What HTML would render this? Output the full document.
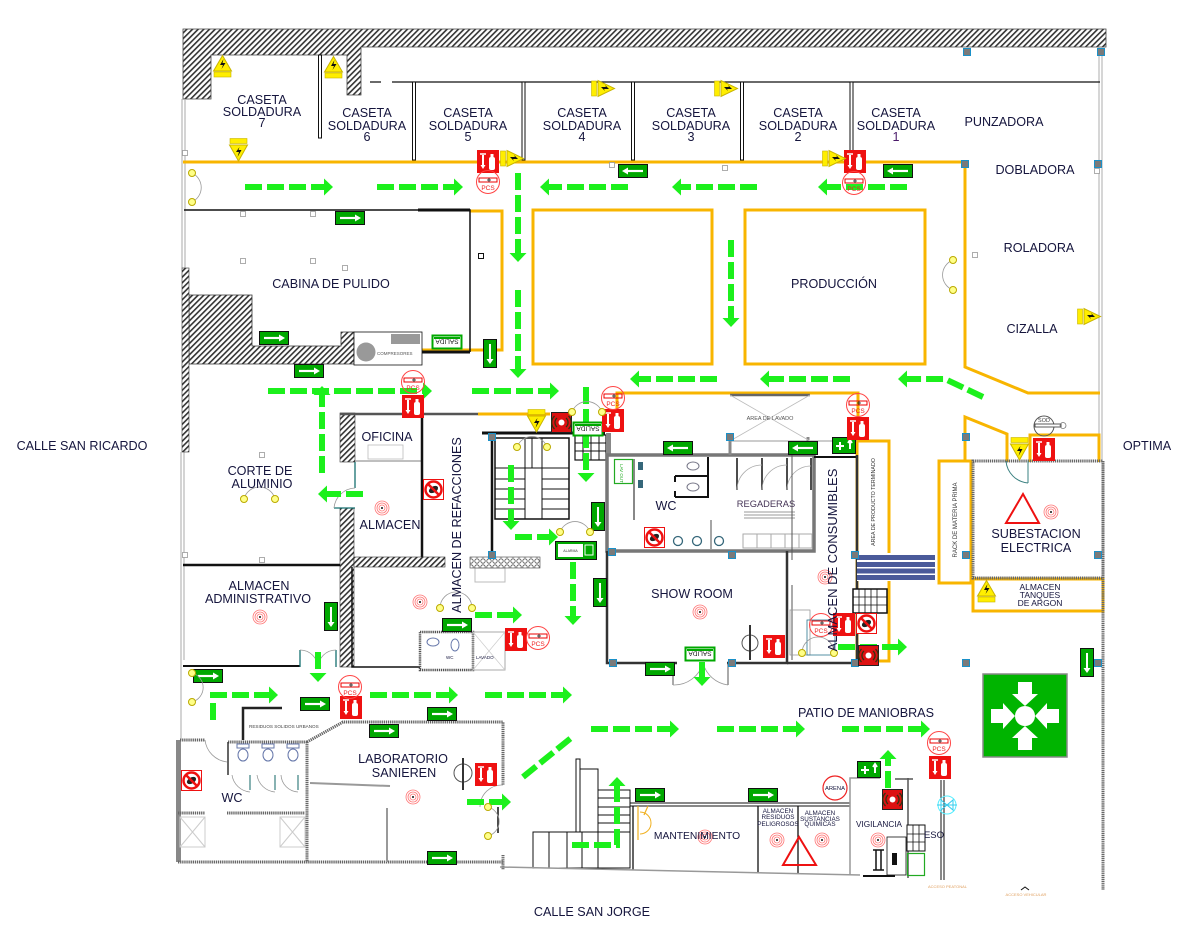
<!DOCTYPE html>
<html><head><meta charset="utf-8"><style>
html,body{margin:0;padding:0;background:#fff;}
svg{display:block;}
text{font-family:"Liberation Sans",Arial,sans-serif;fill:#15153d;}
.d{stroke:#1cf01c;stroke-width:6;stroke-dasharray:17 5;fill:none;}
.hd{fill:#1cf01c;}
.o{stroke:#f8b500;stroke-width:3;fill:none;}
.k{stroke:#111;fill:none;}
.g{stroke:#666;stroke-width:3;stroke-dasharray:1.3 .8;fill:none;}
.t{font-size:12.6px;}
</style></head><body>
<svg width="1202" height="932" viewBox="0 0 1202 932" xmlns="http://www.w3.org/2000/svg">
<defs>
<pattern id="h" width="4" height="4" patternUnits="userSpaceOnUse" patternTransform="rotate(45)"><rect width="4" height="4" fill="#fff"/><rect width="1.6" height="4" fill="#333"/></pattern>
<pattern id="dt" width="6" height="6" patternUnits="userSpaceOnUse"><rect width="6" height="6" fill="#fff"/><circle cx="3" cy="3" r="2.2" fill="none" stroke="#555" stroke-width=".8"/></pattern>
<g id="exR"><rect x=".5" y=".5" width="29" height="13" fill="#00a800" stroke="#111"/><path d="M5 7H21" stroke="#fff" stroke-width="2.2"/><path d="M20 3.5L26 7L20 10.5Z" fill="#fff"/></g>
<g id="exL"><rect x=".5" y=".5" width="29" height="13" fill="#00a800" stroke="#111"/><path d="M9 7H25" stroke="#fff" stroke-width="2.2"/><path d="M10 3.5L4 7L10 10.5Z" fill="#fff"/></g>
<g id="exD"><rect x=".5" y=".5" width="13" height="28" fill="#00a800" stroke="#111"/><path d="M7 5V21" stroke="#fff" stroke-width="2"/><path d="M3.5 20L7 25L10.5 20Z" fill="#fff"/></g>
<g id="sal"><rect x=".5" y=".5" width="29" height="13" fill="#fff" stroke="#00a800" stroke-width="2"/><rect x="2" y="2" width="26" height="2" fill="#00a800"/><text x="15" y="11.5" font-size="6.5" text-anchor="middle" style="fill:#111" transform="rotate(180 15 8)">SALIDA</text></g>
<g id="fe"><rect width="22" height="23" fill="#ee1111"/><rect x="12" y="7" width="6" height="13" rx="2" fill="#fff"/><rect x="13.5" y="4" width="3" height="3" fill="#fff"/><path d="M6 5V16" stroke="#fff" stroke-width="2"/><path d="M3.5 15L6 19L8.5 15Z" fill="#fff"/><path d="M3 4H9" stroke="#fff" stroke-width="1.5"/></g>
<g id="al"><rect x=".5" y=".5" width="20" height="20" fill="#dd1111" stroke="#222"/><circle cx="10.5" cy="10.5" r="3" fill="#fff"/><path d="M6 6A6 6 0 0 0 6 15M15 6A6 6 0 0 1 15 15M3.5 4A9 9 0 0 0 3.5 17M17.5 4A9 9 0 0 1 17.5 17" stroke="#331" stroke-width="1.3" fill="none"/></g>
<g id="ns"><rect x=".5" y=".5" width="20" height="20" fill="#fff" stroke="#e11"/><circle cx="10.5" cy="10.5" r="8" fill="#fff" stroke="#e11" stroke-width="2.5"/><ellipse cx="10.5" cy="10.5" rx="5" ry="3" fill="#222" transform="rotate(-30 10.5 10.5)"/><path d="M5 5L16 16" stroke="#e11" stroke-width="2.5"/></g>
<g id="yt"><path d="M9.5 .5L18.5 16H.5Z" fill="#ffee00" stroke="#c8b400"/><path d="M10.5 4L7 10H10L8.5 14L12.5 8H9.5Z" fill="#111"/><rect x="1" y="17" width="17" height="5" fill="#ffee00" stroke="#c8b400" stroke-width=".6"/></g>
<g id="yi"><rect x="1" y=".5" width="17" height="5" fill="#ffee00" stroke="#c8b400" stroke-width=".6"/><path d="M.5 7H18.5L9.5 23Z" fill="#ffee00" stroke="#c8b400"/><path d="M10.5 9L7 14H10L8.5 19L12.5 12H9.5Z" fill="#111"/></g>
<g id="ys"><rect x=".5" y="1" width="5" height="15" fill="#ffee00" stroke="#c8b400" stroke-width=".6"/><path d="M7 .5V16.5L23.5 8.5Z" fill="#ffee00" stroke="#c8b400"/><path d="M10 7H15L14 5L18 9H13L14 11Z" fill="#111"/></g>
<g id="pcs"><circle r="11.5" fill="none" stroke="#ff4444" stroke-width="1"/><rect x="-9" y="-4" width="18" height="4" fill="none" stroke="#e00" stroke-width="1"/><path d="M-1 -2H3M1 -4V0" stroke="#111" stroke-width=".8"/><text x="0" y="8" font-size="6.5" text-anchor="middle" style="fill:#e22">PCS</text></g>
<g id="sod"><circle r="10" fill="none" stroke="#555" stroke-width="1"/><rect x="-9" y="-2" width="26" height="3" fill="#fff" stroke="#333" stroke-width=".8"/><circle cx="19" cy="-.5" r="3" fill="none" stroke="#777" stroke-width=".8"/><text x="0" y="-4" font-size="5.5" text-anchor="middle" style="fill:#444">SOD</text></g>
<g id="sd"><circle r="7" fill="none" stroke="#f77" stroke-width=".8"/><circle r="5" fill="none" stroke="#f77" stroke-width=".8"/><circle r="3" fill="none" stroke="#f77" stroke-width=".8"/><circle r="1" fill="#111"/></g>
<g id="col"><rect x="-3.5" y="-3.5" width="7" height="7" fill="#7a7a7a" stroke="#1a90c8" stroke-width="1"/></g>
<g id="lt"><circle r="3.5" fill="#ffff88" stroke="#bbaa00" stroke-width="1"/></g>
<g id="sq"><rect x="-2.5" y="-2.5" width="5" height="5" fill="#fff" stroke="#999" stroke-width=".8"/></g>
</defs>

<rect width="1202" height="932" fill="#fff"/>

<!-- top hatched walls -->
<path d="M183,29H1106V47H361V95H347V55H211V99H183Z" fill="url(#h)" stroke="#444" stroke-width=".8"/>
<path d="M1099,47V461M1102,47V461" stroke="#999" stroke-width=".8"/>
<path d="M182,99V268M185,99V268M181,452V740M184,452V660" stroke="#aaa" stroke-width="1"/>

<!-- caseta partitions -->
<path d="M370,82H381M392,82H1100" class="k" stroke-width="1.3"/>
<g fill="#fff" stroke="#111" stroke-width="1">
<rect x="318.5" y="55" width="3" height="83"/>
<rect x="412.5" y="82" width="3" height="78"/>
<rect x="522" y="82" width="3" height="78"/>
<rect x="631.5" y="82" width="3" height="78"/>
<rect x="740.5" y="82" width="3" height="78"/>
<rect x="850" y="82" width="3" height="78"/>
</g>

<!-- orange lines -->
<path class="o" d="M183,162H965V367L1028,393H1100"/>
<path class="o" d="M965,460V417L1007,434V462"/>
<rect class="o" x="939" y="461" width="32" height="122"/>
<path class="o" d="M1030,462V435H1099V462"/>
<rect class="o" x="973" y="579" width="130" height="32"/>
<rect class="o" x="533" y="210" width="179" height="154"/>
<rect class="o" x="745" y="210" width="180" height="154"/>
<path class="o" d="M470,211H502V350H422"/>
<path class="o" d="M617,413V393H858V441"/>
<rect class="o" x="857" y="441" width="32" height="220"/>
<path class="o" d="M478,414H550"/>

<!-- cabina de pulido -->
<path class="k" stroke-width="1.5" d="M184,210H470V352"/>
<path d="M418,210H470M422,352H470" stroke="#111" stroke-width="3"/>
<path d="M189,295H252V346H341V332H354V364H189Z" fill="url(#h)" stroke="#333" stroke-width=".8"/>
<rect x="182" y="268" width="7" height="184" fill="url(#h)" stroke="#333" stroke-width=".6"/>
<rect x="354" y="332" width="68" height="33" fill="#fff" stroke="#111" stroke-width=".8"/>
<rect x="391" y="334" width="29" height="10" fill="#999"/>
<circle cx="366" cy="352" r="9.5" fill="#999"/>
<text x="377" y="355" font-size="4.5" style="fill:#555">COMPRESORES</text>
<use href="#sq" x="243" y="214"/><use href="#sq" x="313" y="214"/><use href="#sq" x="243" y="261"/><use href="#sq" x="313" y="261"/><use href="#sq" x="345" y="268"/>
<rect x="478.5" y="253.5" width="5" height="5" fill="#fff" stroke="#111"/>
<use href="#sq" x="185" y="153"/><use href="#sq" x="612" y="165"/><use href="#sq" x="725" y="168"/><use href="#sq" x="1097" y="171"/><use href="#sq" x="975" y="255"/><use href="#sq" x="262" y="455"/><use href="#sq" x="262" y="560"/><use href="#sq" x="185" y="555"/>

<!-- oficina / almacen -->
<rect x="340" y="413" width="15" height="49" fill="url(#h)" stroke="#333" stroke-width=".6"/>
<path d="M340,414H478" stroke="#555" stroke-width="2.5"/>
<path d="M355,461H422" stroke="#999" stroke-width="1.2"/>
<rect x="368" y="445" width="35" height="14" fill="none" stroke="#bbb" stroke-width=".8"/>
<path d="M422,414V560" stroke="#111" stroke-width="2.5"/>
<rect x="340" y="508" width="14" height="159" fill="url(#h)" stroke="#333" stroke-width=".6"/>
<rect x="354" y="557" width="91" height="10" fill="url(#h)" stroke="#333" stroke-width=".6"/>
<path d="M183,565H340" stroke="#111" stroke-width="2.5"/>
<path d="M183,666H300" stroke="#111" stroke-width="2"/>
<path d="M352,567V667H420" stroke="#111" stroke-width="1.5" fill="none"/>
<path d="M355,462V488M334,508L355,508" stroke="#167070" stroke-width="1.3"/>
<path d="M334,508A22,22 0 0,1 355,488" stroke="#999" fill="none" stroke-width=".8"/>
<path d="M300,650V667M336,650V667" stroke="#167070" stroke-width="1.3"/>
<path d="M300,650A18,18 0 0,1 318,668M336,650A18,18 0 0,0 318,668" stroke="#999" fill="none" stroke-width=".8"/>
<rect x="420" y="632" width="53" height="38" fill="none" stroke="#555" stroke-width="2.5" stroke-dasharray="1.3 .8"/>
<ellipse cx="455" cy="645" rx="4" ry="6" fill="none" stroke="#6677aa"/>
<ellipse cx="433" cy="642" rx="6" ry="4" fill="none" stroke="#6677aa"/>
<text x="446" y="659" font-size="4.5">WC</text>
<rect x="473" y="632" width="32" height="38" fill="none" stroke="#aaa"/>
<path d="M473,632L505,670M505,632L473,670" stroke="#ccc" stroke-width=".7"/>
<text x="476" y="659" font-size="4.5">LAVADO</text>
<rect x="475" y="568" width="30" height="14" fill="none" stroke="#bbb"/>

<!-- stairs -->
<path d="M482,433H605" stroke="#111" stroke-width="3"/>
<path d="M492,433V556" stroke="#111" stroke-width="2.5"/>
<rect x="495" y="438" width="74" height="81" fill="none" stroke="#111" stroke-width="1.5"/>
<path d="M525,438V519M532,438V468M542,438V519M495,468H525M495,479H525M495,489H525M495,499H525M495,509H525M542,468H569M542,479H569M542,489H569M542,499H569M542,509H569M525,468H542" stroke="#111" stroke-width="1"/>
<rect x="470" y="557" width="70" height="11" fill="url(#dt)" stroke="#444" stroke-width=".6"/>
<rect x="575" y="435" width="31" height="25" fill="#fff" stroke="#111" stroke-width="1.2"/>
<path d="M583,435V460M591,435V460M599,435V460M575,443H606M575,451H606" stroke="#111" stroke-width="1"/>
<rect x="606" y="433" width="5" height="22" fill="#888"/>

<!-- WC / regaderas -->
<rect x="607" y="455" width="207" height="96" fill="none" stroke="#777" stroke-width="3.5"/>
<path d="M814,457H858" stroke="#111" stroke-width="2"/>
<path d="M634,459V520" stroke="#888" stroke-width="2"/>
<path d="M675,476H708M675,497H708M708,457V498M675,476V482M675,491V497" stroke="#111" stroke-width="2" fill="none"/>
<ellipse cx="693" cy="466" rx="6" ry="4" fill="none" stroke="#778"/>
<ellipse cx="693" cy="487" rx="6" ry="4" fill="none" stroke="#778"/>
<rect x="638" y="462" width="5" height="8" fill="#35677a"/><rect x="638" y="480" width="5" height="8" fill="#35677a"/>
<path d="M737,458V490M762,458V490M787,458V490M811,458V490" stroke="#111" stroke-width="1.5"/>
<path d="M737,490A25,25 0 0,1 762,465M762,490A25,25 0 0,1 787,465M787,490A24,24 0 0,1 811,466" stroke="#aaa" fill="none" stroke-width=".8"/>
<path d="M744,512H795M744,515H795M744,518H795" stroke="#999" stroke-width="1"/>
<circle cx="678" cy="541" r="4.5" fill="none" stroke="#35677a" stroke-width="1.3"/>
<circle cx="697" cy="541" r="4.5" fill="none" stroke="#35677a" stroke-width="1.3"/>
<circle cx="719" cy="541" r="4.5" fill="none" stroke="#35677a" stroke-width="1.3"/>
<path d="M711,520V549" stroke="#888" stroke-width="1.5"/>
<rect x="743" y="534" width="69" height="14" fill="none" stroke="#aaa"/>
<path d="M757,534V548M771,534V548M785,534V548M799,534V548" stroke="#aaa"/>
<rect x="614.5" y="459.5" width="18" height="24" fill="none" stroke="#2a2" stroke-width="1.2"/>
<text transform="translate(620,464) rotate(90)" font-size="4.5" style="fill:#2a2">LAV OUT</text>
<path d="M730,441H857" stroke="#999" stroke-width="1"/>
<path d="M730,437V455M808,437V455" stroke="#888" stroke-width="3"/>
<path d="M730,395H810" stroke="#666" stroke-width="2.5"/>
<path d="M730,395L810,441M810,395L730,441" stroke="#bbb" stroke-width=".8"/>
<text x="770" y="420" font-size="5.5" text-anchor="middle" style="fill:#555">AREA DE LAVADO</text>

<!-- show room & consumibles -->
<path d="M607,551V663H677M727,663H787V551" stroke="#333" stroke-width="2.5" fill="none"/>
<path d="M673,663V685M728,663V685" stroke="#555" stroke-width="1"/>
<path d="M673,685A30,30 0 0,0 703,663M728,685A30,30 0 0,1 703,663" stroke="#999" fill="none" stroke-width=".8"/>
<path d="M787,663H857M857,455V663" stroke="#333" stroke-width="2.5" fill="none"/>
<path d="M792,455V560M792,585V660" stroke="#555" stroke-width="1"/>
<rect x="790" y="610" width="20" height="45" fill="none" stroke="#999" stroke-width=".8"/>
<rect x="807" y="620" width="28" height="35" fill="none" stroke="#2a7590" stroke-width=".8"/>
<rect x="857" y="553" width="78" height="28" fill="#fff"/>
<path d="M857,557.5H935M857,564.5H935M857,571H935M857,577.5H935" stroke="#4a5a9a" stroke-width="5"/>
<rect x="853" y="589" width="34" height="24" fill="#fff" stroke="#111" stroke-width="1.5"/>
<path d="M859,589V613M865,589V613M871,589V613M877,589V613M853,597H887M853,605H887" stroke="#111" stroke-width=".8"/>
<text transform="translate(875,502) rotate(-90)" font-size="5.3" text-anchor="middle" style="fill:#333">AREA DE PRODUCTO TERMINADO</text>
<text transform="translate(957,520) rotate(-90)" font-size="6" text-anchor="middle" style="fill:#333">RACK DE MATERIA PRIMA</text>

<!-- subestacion -->
<rect x="973" y="461" width="130" height="117" fill="none" class="g"/>
<path class="g" d="M1103,461V890"/>
<path d="M1006,461A24,24 0 0,0 1028,483M1028,461V483" stroke="#3a8080" fill="none" stroke-width="1"/>
<path d="M1023,494L1006,523H1039Z" fill="none" stroke="#e11" stroke-width="2"/>

<!-- bottom left -->
<rect x="176" y="740" width="5" height="122" fill="#888"/>
<path class="g" d="M178,862H503"/>
<path class="g" d="M180,740H205M228,742H307"/>
<path d="M243,740V708H282" stroke="#222" stroke-width="2.5" fill="none"/>
<path class="g" d="M307,742L343,722H503V785M503,855V870"/>
<path class="g" d="M307,742V862"/>
<path d="M228,742V775" stroke="#333" stroke-width="1.5"/>
<path class="g" d="M178,813H205M227,813H305"/>
<g fill="none" stroke="#6677aa" stroke-width="1">
<rect x="237" y="744" width="12" height="4"/><ellipse cx="243" cy="755" rx="5" ry="6"/>
<rect x="262" y="744" width="12" height="4"/><ellipse cx="268" cy="755" rx="5" ry="6"/>
<rect x="287" y="744" width="12" height="4"/><ellipse cx="293" cy="755" rx="5" ry="6"/>
</g>
<path d="M250,775V790M275,775V790M298,775V790" stroke="#3a8080" stroke-width="1.2"/>
<path d="M232,775A20,20 0 0,0 250,792M257,775A20,20 0 0,0 275,792M281,775A18,18 0 0,0 298,792" stroke="#999" fill="none" stroke-width=".8"/>
<path d="M205,740A25,25 0 0,0 227,762" stroke="#999" fill="none" stroke-width=".8"/>
<rect x="180" y="817" width="25" height="30" fill="none" stroke="#ccc"/><path d="M180,817L205,847M205,817L180,847" stroke="#ccc"/>
<rect x="280" y="817" width="25" height="30" fill="none" stroke="#ccc"/><path d="M280,817L305,847M305,817L280,847" stroke="#ccc"/>
<path d="M310,783L390,786" stroke="#999" stroke-width="2"/>
<path d="M387,808V862" stroke="#999" stroke-width="2"/>
<text x="249" y="728" font-size="4.6" style="fill:#444">RESIDUOS SOLIDOS URBANOS</text>
<path d="M498,807V833" stroke="#111" stroke-width="1.5"/>
<path d="M480,807A22,22 0 0,1 503,785" stroke="#999" fill="none" stroke-width=".8"/>

<!-- bottom center -->
<rect x="533" y="832" width="65" height="36" fill="none" stroke="#111"/>
<path d="M549,832V868M567,832V868M582,832V868" stroke="#111"/>
<rect x="598" y="790" width="32" height="78" fill="none" stroke="#111"/>
<path d="M598,798H630M598,807H630M598,815H630M598,823H630M598,832H630" stroke="#111"/>
<rect x="576" y="759" width="4" height="73" fill="none" stroke="#111"/>
<rect x="580" y="769" width="18" height="63" fill="none" stroke="#111"/>
<path d="M630,803H850M630,806H850" stroke="#111" stroke-width="1"/>
<path d="M633,806V870M758,806V873M798,806V873" stroke="#111" stroke-width="1.3"/>
<path d="M500,867L860,875" stroke="#999" stroke-width="1.5"/>
<path d="M638,806V840M644,815L648,806" stroke="#f0b020" stroke-width="1.2" fill="none"/>
<path d="M640,812A11,11 0 0,1 640,834" stroke="#f0b020" fill="none" stroke-width="1"/>
<path d="M850,875V778H880" stroke="#999" stroke-width="1.5" fill="none"/>
<path d="M908,778V878M895,779H913" stroke="#555" stroke-width="1.5"/>
<path d="M941,780V880M944,780V880" stroke="#111" stroke-width="1"/>
<path d="M863,876H895" stroke="#111" stroke-width="2"/>
<rect x="887" y="837" width="19" height="38" fill="#fff" stroke="#111" stroke-width=".8"/>
<rect x="892" y="853" width="5" height="12" fill="#111"/>
<rect x="907" y="825" width="18" height="26" fill="#fff" stroke="#111" stroke-width="1"/>
<path d="M913,825V851M919,825V851M907,834H925M907,842H925" stroke="#111" stroke-width=".8"/>
<rect x="907.5" y="853.5" width="17" height="22" fill="none" stroke="#2a2" stroke-width="1.2"/>
<path d="M873,850H884M873,870H884M876,850V870M881,850V870" stroke="#111" stroke-width="1.5"/>
<circle cx="835" cy="788" r="12" fill="none" stroke="#e22" stroke-width="1.2"/>
<text x="835" y="790" font-size="5.8" text-anchor="middle">ARENA</text>
<circle cx="947" cy="805" r="9" fill="none" stroke="#5ef" stroke-width="1"/>
<path d="M937,805H957M941,800L953,810V800L941,810Z" stroke="#3ce" fill="none" stroke-width="1"/>
<path d="M783,865L799,837L816,865Z" fill="none" stroke="#e11" stroke-width="2"/>
<text x="928" y="888" font-size="4" style="fill:#e0a060">ACCESO PEATONAL</text>
<text x="1026" y="896" font-size="4" text-anchor="middle" style="fill:#e0a060">ACCESO VEHICULAR</text>
<path d="M1021,890L1025,887L1029,890" stroke="#111" fill="none"/>

<!-- columns -->
<g>
<use href="#col" x="967" y="52"/><use href="#col" x="1101" y="52"/>
<use href="#col" x="965" y="164"/><use href="#col" x="1098" y="164"/>
<use href="#col" x="966" y="437"/><use href="#col" x="966" y="555"/><use href="#col" x="1098" y="555"/>
<use href="#col" x="966" y="663"/><use href="#col" x="1098" y="663"/>
<use href="#col" x="855" y="555"/><use href="#col" x="855" y="663"/>
<use href="#col" x="492" y="437"/><use href="#col" x="492" y="555"/>
<use href="#col" x="612" y="552"/><use href="#col" x="732" y="555"/><use href="#col" x="730" y="437"/>
<use href="#col" x="613" y="663"/><use href="#col" x="732" y="663"/>
</g>

<!-- assembly point -->
<rect x="983" y="674" width="84" height="83" fill="#00b400" stroke="#888" stroke-width="1.5"/>
<g fill="#fff">
<circle cx="1025" cy="716" r="10"/>
<rect x="1018" y="682" width="14" height="13"/><path d="M1012,694H1038L1025,706Z"/>
<rect x="1018" y="737" width="14" height="13"/><path d="M1012,738H1038L1025,726Z"/>
<rect x="991" y="709" width="13" height="14"/><path d="M1003,703V729L1015,716Z"/>
<rect x="1046" y="709" width="13" height="14"/><path d="M1047,703V729L1035,716Z"/>
</g>

<!-- dashed evacuation arrows -->
<g>
<line class="d" x1="245" y1="187" x2="324" y2="187"/><polygon class="hd" points="324,178.5 333,187 324,195.5"/>
<line class="d" x1="377" y1="187" x2="454" y2="187"/><polygon class="hd" points="454,178.5 463,187 454,195.5"/>
<line class="d" x1="628" y1="187" x2="549" y2="187"/><polygon class="hd" points="549,178.5 540,187 549,195.5"/>
<line class="d" x1="757" y1="187" x2="681" y2="187"/><polygon class="hd" points="681,178.5 672,187 681,195.5"/>
<line class="d" x1="907" y1="187" x2="827" y2="187"/><polygon class="hd" points="827,178.5 818,187 827,195.5"/>
<line class="d" x1="518" y1="173" x2="518" y2="253"/><polygon class="hd" points="509.5,253 518,262 526.5,253"/>
<line class="d" x1="518" y1="290" x2="518" y2="369"/><polygon class="hd" points="509.5,369 518,378 526.5,369"/>
<line class="d" x1="731" y1="240" x2="731" y2="318"/><polygon class="hd" points="722.5,318 731,327 739.5,318"/>
<line class="d" x1="268" y1="391" x2="423" y2="391"/><polygon class="hd" points="423,382.5 432,391 423,399.5"/>
<line class="d" x1="472" y1="391" x2="550" y2="391"/><polygon class="hd" points="550,382.5 559,391 550,399.5"/>
<line class="d" x1="717" y1="379" x2="639" y2="379"/><polygon class="hd" points="639,370.5 630,379 639,387.5"/>
<line class="d" x1="850" y1="379" x2="769" y2="379"/><polygon class="hd" points="769,370.5 760,379 769,387.5"/>
<path class="d" d="M983,397L945,379H907"/><polygon class="hd" points="907,370.5 898,379 907,387.5"/>
<line class="d" x1="322" y1="473" x2="322" y2="395"/><polygon class="hd" points="313.5,395 322,386 330.5,395"/>
<line class="d" x1="363" y1="494" x2="327" y2="494"/><polygon class="hd" points="327,485.5 318,494 327,502.5"/>
<line class="d" x1="511" y1="465" x2="511" y2="521"/><polygon class="hd" points="502.5,521 511,530 519.5,521"/>
<line class="d" x1="515" y1="537" x2="549" y2="537"/><polygon class="hd" points="549,528.5 558,537 549,545.5"/>
<line class="d" x1="586" y1="387" x2="586" y2="473"/><polygon class="hd" points="577.5,473 586,482 594.5,473"/>
<line class="d" x1="573" y1="562" x2="573" y2="616"/><polygon class="hd" points="564.5,616 573,625 581.5,616"/>
<line class="d" x1="475" y1="615" x2="513" y2="615"/><polygon class="hd" points="513,606.5 522,615 513,623.5"/>
<path class="d" d="M213,720V695H269"/><polygon class="hd" points="269,686.5 278,695 269,703.5"/>
<line class="d" x1="370" y1="695" x2="449" y2="695"/><polygon class="hd" points="449,686.5 458,695 449,703.5"/>
<line class="d" x1="485" y1="695" x2="563" y2="695"/><polygon class="hd" points="563,686.5 572,695 563,703.5"/>
<line class="d" x1="318" y1="652" x2="318" y2="673"/><polygon class="hd" points="309.5,673 318,682 326.5,673"/>
<line class="d" x1="467" y1="802" x2="502" y2="802"/><polygon class="hd" points="502,793.5 511,802 502,810.5"/>
<line class="d" x1="523" y1="777" x2="571" y2="738"/>
<line class="d" x1="591" y1="729" x2="670" y2="729"/><polygon class="hd" points="670,720.5 679,729 670,737.5"/>
<line class="d" x1="717" y1="729" x2="796" y2="729"/><polygon class="hd" points="796,720.5 805,729 796,737.5"/>
<line class="d" x1="842" y1="729" x2="921" y2="729"/><polygon class="hd" points="921,720.5 930,729 921,737.5"/>
<path class="d" d="M572,845H617V786"/><polygon class="hd" points="608.5,786 617,777 625.5,786"/>
<line class="d" x1="888" y1="788" x2="888" y2="759"/><polygon class="hd" points="879.5,759 888,750 896.5,759"/>
<line class="d" x1="702" y1="662" x2="702" y2="677"/><polygon class="hd" points="693.5,677 702,686 710.5,677"/>
<line class="d" x1="838" y1="647" x2="898" y2="647"/><polygon class="hd" points="898,638.5 907,647 898,655.5"/>
</g>

<!-- exit signs -->
<use href="#exR" x="335" y="211"/><use href="#exR" x="259" y="331"/><use href="#exR" x="294" y="364"/>
<use href="#exR" x="442" y="618"/><use href="#exR" x="193" y="669"/><use href="#exR" x="300" y="697"/>
<use href="#exR" x="427" y="707"/><use href="#exR" x="369" y="724"/><use href="#exR" x="427" y="851"/>
<use href="#exR" x="645" y="662"/><use href="#exR" x="635" y="788"/><use href="#exR" x="748" y="788"/>
<use href="#exL" x="618" y="164"/><use href="#exL" x="883" y="164"/><use href="#exL" x="663" y="441"/><use href="#exL" x="788" y="441"/>
<use href="#exD" x="483" y="339"/><use href="#exD" x="324" y="602"/><use href="#exD" x="591" y="502"/><use href="#exD" x="593" y="578"/><use href="#exD" x="1080" y="648"/>
<use href="#sal" x="432" y="335"/><use href="#sal" x="573" y="422"/><use href="#sal" x="685" y="647"/>
<g>
<rect x="832.5" y="437.5" width="23" height="16" fill="#00a800" stroke="#111"/>
<path d="M836,446H844M840,442V450M850,449V441M848,443L850,440L852,443" stroke="#fff" stroke-width="2" fill="none"/>
<rect x="857.5" y="761.5" width="23" height="16" fill="#00a800" stroke="#111"/>
<path d="M861,770H869M865,766V774M875,773V765M873,767L875,764L877,767" stroke="#fff" stroke-width="2" fill="none"/>
<rect x="555.5" y="541.5" width="41" height="18" fill="#00a800" stroke="#111"/>
<rect x="558" y="544" width="25" height="13" fill="#fff"/>
<text x="570.5" y="552" font-size="3.5" text-anchor="middle" style="fill:#333">ALARMA</text>
<rect x="585" y="545" width="8" height="10" fill="none" stroke="#fff" stroke-width="1"/>
</g>

<!-- fire extinguishers -->
<use href="#fe" x="477" y="150"/><use href="#fe" x="844" y="150"/><use href="#fe" x="402" y="395"/>
<use href="#fe" x="602" y="409"/><use href="#fe" x="847" y="417"/><use href="#fe" x="1033" y="438"/>
<use href="#fe" x="505" y="628"/><use href="#fe" x="763" y="635"/><use href="#fe" x="833" y="613"/>
<use href="#fe" x="340" y="696"/><use href="#fe" x="475" y="763"/><use href="#fe" x="929" y="756"/>
<!-- alarms -->
<use href="#al" x="551" y="412"/><use href="#al" x="858" y="645"/><use href="#al" x="882" y="789"/>
<!-- no smoking -->
<use href="#ns" x="423" y="479"/><use href="#ns" x="644" y="527"/><use href="#ns" x="856" y="613"/><use href="#ns" x="181" y="770"/>
<!-- yellow warning -->
<use href="#yt" x="213" y="55"/><use href="#yt" x="324" y="56"/><use href="#yt" x="977" y="580"/>
<use href="#yi" x="229" y="138"/><use href="#yi" x="527" y="409"/><use href="#yi" x="1010" y="437"/>
<use href="#ys" x="500" y="150"/><use href="#ys" x="591" y="80"/><use href="#ys" x="714" y="80"/><use href="#ys" x="822" y="150"/><use href="#ys" x="1077" y="308"/>
<!-- PCS -->
<use href="#pcs" x="488" y="182"/><use href="#pcs" x="854" y="183"/><use href="#pcs" x="413" y="382"/>
<use href="#pcs" x="613" y="398"/><use href="#pcs" x="858" y="405"/><use href="#pcs" x="538" y="638"/>
<use href="#pcs" x="350" y="687"/><use href="#pcs" x="821" y="625"/><use href="#pcs" x="939" y="743"/>
<use href="#sod" x="1044" y="426"/>
<circle cx="750" cy="643" r="8" fill="none" stroke="#555"/><path d="M750,625V660" stroke="#333" stroke-width="2"/>
<circle cx="463" cy="773" r="9" fill="none" stroke="#555"/><path d="M463,758V790" stroke="#333" stroke-width="2"/>
<!-- smoke detectors -->
<use href="#sd" x="420" y="602"/><use href="#sd" x="260" y="617"/><use href="#sd" x="382" y="508"/>
<use href="#sd" x="700" y="612"/><use href="#sd" x="1051" y="512"/><use href="#sd" x="825" y="577"/>
<use href="#sd" x="413" y="797"/><use href="#sd" x="705" y="837"/><use href="#sd" x="777" y="840"/>
<use href="#sd" x="822" y="840"/><use href="#sd" x="878" y="840"/>
<!-- emergency lights -->
<path d="M192,173A16,16 0 0,1 192,202M953,260A16,16 0 0,0 953,290M244,499A16,16 0 0,1 275,499M440,608A16,16 0 0,1 472,608M517,447A16,16 0 0,1 547,447M572,412A16,16 0 0,1 602,412M560,532A16,16 0 0,1 590,532M802,653A16,16 0 0,1 834,653M192,673A15,15 0 0,1 192,702M488,807A15,15 0 0,1 488,836" stroke="#999" fill="none" stroke-width=".8"/>
<use href="#lt" x="192" y="173"/><use href="#lt" x="192" y="202"/><use href="#lt" x="953" y="260"/><use href="#lt" x="953" y="290"/>
<use href="#lt" x="244" y="499"/><use href="#lt" x="275" y="499"/><use href="#lt" x="440" y="608"/><use href="#lt" x="472" y="608"/>
<use href="#lt" x="517" y="447"/><use href="#lt" x="547" y="447"/><use href="#lt" x="572" y="412"/><use href="#lt" x="602" y="412"/>
<use href="#lt" x="560" y="532"/><use href="#lt" x="590" y="532"/><use href="#lt" x="802" y="653"/><use href="#lt" x="834" y="653"/>
<use href="#lt" x="192" y="673"/><use href="#lt" x="192" y="702"/><use href="#lt" x="488" y="807"/><use href="#lt" x="488" y="836"/>

<!-- labels -->
<g class="t" text-anchor="middle">
<text x="262" y="104">CASETA</text><text x="262" y="116">SOLDADURA</text><text x="262" y="127">7</text>
<text x="367" y="117">CASETA</text><text x="367" y="130">SOLDADURA</text><text x="367" y="141">6</text>
<text x="468" y="117">CASETA</text><text x="468" y="130">SOLDADURA</text><text x="468" y="141">5</text>
<text x="582" y="117">CASETA</text><text x="582" y="130">SOLDADURA</text><text x="582" y="141">4</text>
<text x="691" y="117">CASETA</text><text x="691" y="130">SOLDADURA</text><text x="691" y="141">3</text>
<text x="798" y="117">CASETA</text><text x="798" y="130">SOLDADURA</text><text x="798" y="141">2</text>
<text x="896" y="117">CASETA</text><text x="896" y="130">SOLDADURA</text><text x="896" y="141" style="fill:#4a1a6a">1</text>
<text x="1004" y="126">PUNZADORA</text>
<text x="1035" y="174">DOBLADORA</text>
<text x="1039" y="252">ROLADORA</text>
<text x="1032" y="333">CIZALLA</text>
<text x="834" y="288">PRODUCCIÓN</text>
<text x="331" y="288">CABINA DE PULIDO</text>
<text x="387" y="441">OFICINA</text>
<text x="260" y="475">CORTE DE</text><text x="262" y="488">ALUMINIO</text>
<text x="390" y="529">ALMACEN</text>
<text x="259" y="590">ALMACEN</text><text x="258" y="603">ADMINISTRATIVO</text>
<text x="666" y="510">WC</text>
<text x="692" y="598">SHOW ROOM</text>
<text x="1036" y="538">SUBESTACION</text><text x="1036" y="552">ELECTRICA</text>
<text x="866" y="717">PATIO DE MANIOBRAS</text>
<text x="403" y="763">LABORATORIO</text><text x="404" y="777">SANIEREN</text>
<text x="232" y="802">WC</text>
<text x="82" y="450">CALLE SAN RICARDO</text>
<text x="1147" y="450">OPTIMA</text>
<text x="592" y="916">CALLE SAN JORGE</text>
</g>
<text transform="translate(461,525) rotate(-90)" text-anchor="middle" font-size="12.6">ALMACEN DE REFACCIONES</text>
<text transform="translate(837,560) rotate(-90)" text-anchor="middle" font-size="13">ALMACEN DE CONSUMIBLES</text>
<text x="766" y="507" font-size="9.3" text-anchor="middle" style="fill:#443355">REGADERAS</text>
<g font-size="8.5" text-anchor="middle"><text x="1040" y="590">ALMACEN</text><text x="1040" y="598">TANQUES</text><text x="1040" y="606">DE ARGON</text></g>
<text x="697" y="839" font-size="10.3" text-anchor="middle">MANTENIMIENTO</text>
<text x="879" y="827" font-size="8.2" text-anchor="middle">VIGILANCIA</text>
<text x="934" y="838" font-size="9.5" text-anchor="middle">ESO</text>
<g font-size="6.3" text-anchor="middle"><text x="778" y="813">ALMACEN</text><text x="778" y="819">RESIDUOS</text><text x="778" y="826">PELIGROSOS</text>
<text x="820" y="815">ALMACEN</text><text x="820" y="821">SUSTANCIAS</text><text x="820" y="826">QUIMICAS</text></g>
</svg>
</body></html>
